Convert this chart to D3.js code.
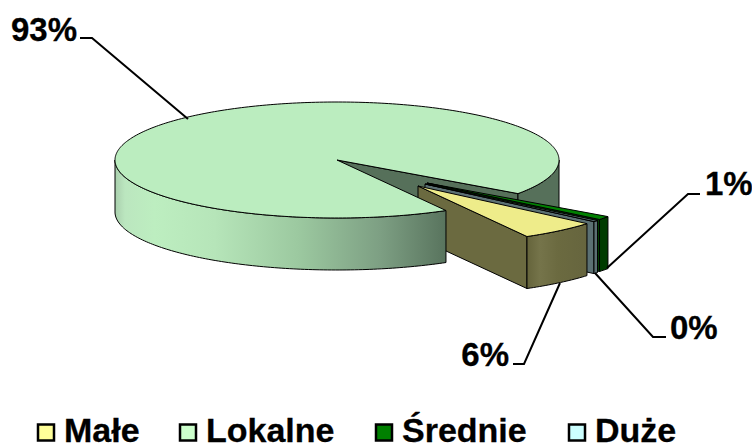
<!DOCTYPE html>
<html>
<head>
<meta charset="utf-8">
<script src="https://cdn.jsdelivr.net/npm/d3@7"></script>
<style>
  html, body { margin: 0; padding: 0; background: #fff; }
  svg { display: block; }
  text { font-family: "Liberation Sans", Arial, sans-serif; font-weight: bold; font-size: 33px; fill: #000; stroke: #000; stroke-width: 0.3px; }
  .legend text { font-size: 34px; }
</style>
</head>
<body>
<svg id="chart" width="752" height="446"></svg>
<script>
// values, labels round them
var categories = ["Małe", "Lokalne", "Średnie", "Duże"];
var values = [5.6, 93.0, 1.0, 0.4];

// colours per category
var topColors = ["#eeec8a", "#bbedbf", "#008000", "#5b7073"];
var wallColors = ["#6b6a40", "#56705a", "#003c00", "#5b7073"];
var legendColors = ["#ffff99", "#ccffcc", "#008000", "#ccffff"];

// layout, not data
var cx = 337, cy = 160, rx = 222, ry = 58, depth = 52;
var startDeg = 130.44;
var offsets = [[81, 26], [0, 0], [90, 23], [88, 24]];
var legendX = [37, 179, 375, 568];
var leaders = [
    {i: 0, pts: [[513, 364], [524, 364], [560, 283]], x: 509, y: 366, anchor: "end"},
    {i: 1, pts: [[80, 38], [92, 38], [188, 119]], x: 11, y: 41, anchor: "start"},
    {i: 2, pts: [[700, 194], [688, 194], [607, 268]], x: 705, y: 195, anchor: "start"},
    {i: 3, pts: [[666, 337], [653, 337], [595, 273]], x: 670, y: 339, anchor: "start"}
];

var svg = d3.select("#chart");
var defs = svg.append("defs");

var x = d3.scaleLinear().domain([-1, 1]).range([cx - rx, cx + rx]);
var y = d3.scaleLinear().domain([-1, 1]).range([cy - ry, cy + ry]);

var deg = Math.PI / 180;
var pie = d3.pie().sort(null).startAngle(startDeg * deg).endAngle((startDeg + 360) * deg);
var slices = pie(values);

// point on the rim, angle clockwise from 12 o'clock
function rim(a, off, dz) {
    return [x(Math.sin(a)) + off[0], y(-Math.cos(a)) + off[1] + dz];
}

function arcPoints(a0, a1, off, dz) {
    var n = Math.max(2, Math.ceil(Math.abs(a1 - a0) / deg));
    return d3.range(n + 1).map(function(k) {
        return rim(a0 + (a1 - a0) * k / n, off, dz);
    });
}

var line = d3.line();

function addShape(g, pts, fill) {
    return g.append("path")
        .attr("d", line(pts) + "Z")
        .attr("fill", fill)
        .attr("stroke", "#000")
        .attr("stroke-width", 1)
        .attr("stroke-linejoin", "round");
}

function topFace(g, s, off, fill) {
    var apex = [x(0) + off[0], y(0) + off[1]];
    addShape(g, [apex].concat(arcPoints(s.startAngle, s.endAngle, off, 0)), fill);
}

function outerWall(g, a0, a1, off, fill) {
    var upper = arcPoints(a0, a1, off, 0);
    var lower = arcPoints(a1, a0, off, depth);
    addShape(g, upper.concat(lower), fill);
}

// wall along a radius, the one that faces us
function radialWall(g, a, off, fill) {
    var apex = [x(0) + off[0], y(0) + off[1]];
    var edge = rim(a, off, 0);
    addShape(g, [apex, edge, [edge[0], edge[1] + depth], [apex[0], apex[1] + depth]], fill);
}

// shading of the big slice front wall
var grad = defs.append("linearGradient")
    .attr("id", "frontWall")
    .attr("gradientUnits", "userSpaceOnUse")
    .attr("x1", 115).attr("x2", 447).attr("y1", 0).attr("y2", 0);
[[0, "#a9cfad"], [0.03, "#bbe6bf"], [0.12, "#bdeec0"], [0.3, "#b6e5b9"], [0.55, "#9cc9a0"], [0.8, "#7d9f83"], [1, "#58735d"]]
    .forEach(function(d) {
        grad.append("stop").attr("offset", d[0]).attr("stop-color", d[1]);
    });

var olive = defs.append("linearGradient")
    .attr("id", "oliveWall")
    .attr("gradientUnits", "userSpaceOnUse")
    .attr("x1", 528).attr("x2", 588).attr("y1", 0).attr("y2", 0);
[[0, "#66653c"], [0.2, "#75744a"], [0.5, "#6b6a40"], [1, "#66653e"]].forEach(function(d) {
    olive.append("stop").attr("offset", d[0]).attr("stop-color", d[1]);
});

var chart = svg.append("g").attr("class", "pie");
var lok = slices[1];
var lokEnd = lok.endAngle;

// back of the big slice, seen through the gap
radialWall(chart, lokEnd, [0, 0], wallColors[1]);
outerWall(chart, 90 * deg + 2 * Math.PI, lokEnd, [0, 0], wallColors[1]);

// pulled out slices, back to front
[2, 3, 0].forEach(function(i) {
    var s = slices[i];
    var off = offsets[i];
    var g = chart.append("g").attr("class", "slice");
    radialWall(g, s.endAngle, off, wallColors[i]);
    outerWall(g, s.startAngle, s.endAngle, off, i === 0 ? "url(#oliveWall)" : wallColors[i]);
    topFace(g, s, off, topColors[i]);
});

// front of the big slice goes over the pulled out walls
outerWall(chart, lok.startAngle, 270 * deg, [0, 0], "url(#frontWall)");
topFace(chart, lok, [0, 0], topColors[1]);

// leader lines and percent labels
var fmt = d3.format(".0%");
leaders.forEach(function(d) {
    svg.append("path")
        .attr("d", line(d.pts))
        .attr("fill", "none")
        .attr("stroke", "#000")
        .attr("stroke-width", 2);
    svg.append("text")
        .attr("x", d.x)
        .attr("y", d.y)
        .attr("text-anchor", d.anchor)
        .text(fmt(values[d.i] / 100));
});

// legend
var legend = svg.append("g").attr("class", "legend")
    .selectAll("g")
    .data(categories)
    .enter().append("g");

legend.append("rect")
    .attr("x", function(d, i) { return legendX[i] + 1; })
    .attr("y", 424.5)
    .attr("width", 16)
    .attr("height", 16)
    .attr("fill", function(d, i) { return legendColors[i]; })
    .attr("stroke", "#000")
    .attr("stroke-width", 2.5);

legend.append("text")
    .attr("x", function(d, i) { return legendX[i] + 27; })
    .attr("y", 442)
    .text(function(d) { return d; });
</script>
</body>
</html>
